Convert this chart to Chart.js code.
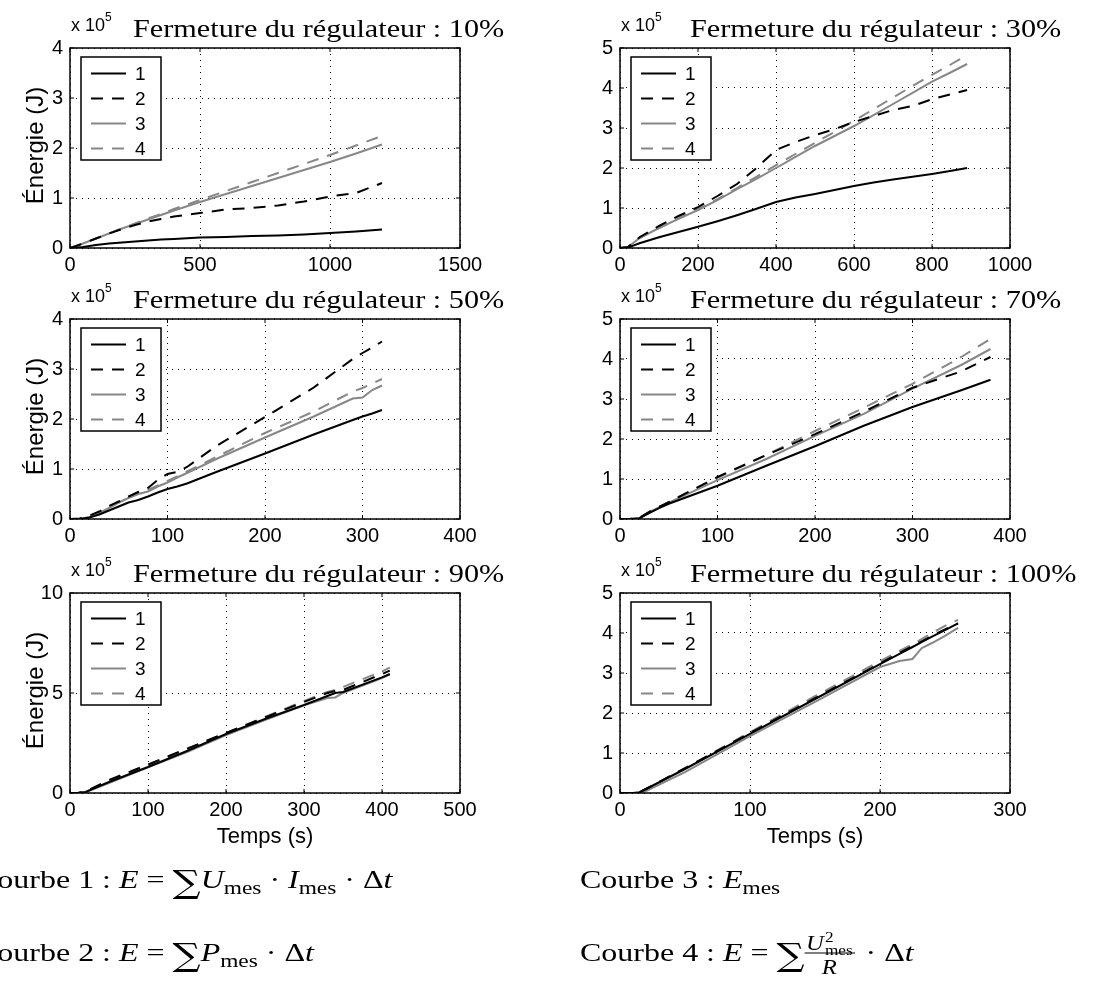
<!DOCTYPE html>
<html lang="fr">
<head>
<meta charset="utf-8">
<title>Énergie - fermeture du régulateur</title>
<script src="https://cdn.jsdelivr.net/npm/chart.js@4.4.1/dist/chart.umd.min.js"></script>
<style>
  html, body { margin: 0; padding: 0; background: #fff; }
  #page { position: relative; width: 1105px; height: 983px; overflow: hidden; }
  #page canvas { position: absolute; }
  #texte { left: 0; top: 0; z-index: 5; pointer-events: none; }
</style>
</head>
<body>
<div id="page"></div>
<script>
// --- Données : temps en s, énergie en x 10^5 J ---
const temps10 = [0, 50, 100, 150, 200, 250, 300, 350, 400, 500, 600, 700, 800, 900, 1000, 1100, 1200];
const e10_1 = [0, 0.02, 0.06, 0.09, 0.11, 0.13, 0.15, 0.17, 0.18, 0.21, 0.22, 0.24, 0.25, 0.27, 0.30, 0.33, 0.37];
const e10_2 = [0, 0.09, 0.19, 0.29, 0.38, 0.46, 0.53, 0.58, 0.63, 0.70, 0.77, 0.80, 0.85, 0.93, 1.03, 1.10, 1.30];
const e10_3 = [0, 0.09, 0.19, 0.29, 0.39, 0.48, 0.57, 0.66, 0.75, 0.92, 1.08, 1.24, 1.40, 1.56, 1.72, 1.89, 2.07];
const e10_4 = [0, 0.09, 0.19, 0.29, 0.39, 0.49, 0.59, 0.68, 0.78, 0.96, 1.14, 1.32, 1.50, 1.68, 1.86, 2.05, 2.24];

const temps30 = [0, 20, 50, 100, 150, 200, 250, 300, 350, 400, 450, 500, 550, 600, 650, 700, 750, 800, 850, 890];
const e30_1 = [0, 0.01, 0.12, 0.27, 0.40, 0.53, 0.67, 0.82, 0.98, 1.15, 1.26, 1.35, 1.45, 1.55, 1.64, 1.71, 1.78, 1.85, 1.93, 2.00];
const e30_2 = [0, 0.02, 0.27, 0.55, 0.80, 1.02, 1.30, 1.60, 2.00, 2.45, 2.65, 2.82, 2.97, 3.15, 3.30, 3.45, 3.55, 3.72, 3.85, 3.95];
const e30_3 = [0, 0.02, 0.25, 0.50, 0.73, 0.95, 1.20, 1.47, 1.73, 2.00, 2.28, 2.55, 2.80, 3.05, 3.32, 3.60, 3.88, 4.16, 4.40, 4.60];
const e30_4 = [0, 0.02, 0.25, 0.50, 0.74, 0.97, 1.22, 1.50, 1.78, 2.07, 2.35, 2.63, 2.90, 3.18, 3.47, 3.76, 4.05, 4.33, 4.60, 4.82];

const temps50 = [0, 10, 20, 30, 40, 50, 60, 70, 80, 90, 100, 110, 120, 150, 200, 250, 290, 300, 310, 320];
const e50_1 = [0, 0, 0.03, 0.09, 0.17, 0.25, 0.33, 0.38, 0.45, 0.53, 0.60, 0.65, 0.71, 0.94, 1.31, 1.69, 1.98, 2.05, 2.11, 2.18];
const e50_2 = [0, 0.01, 0.07, 0.15, 0.26, 0.35, 0.45, 0.54, 0.62, 0.78, 0.90, 0.94, 1.04, 1.46, 2.04, 2.63, 3.20, 3.32, 3.43, 3.55];
const e50_3 = [0, 0, 0.04, 0.12, 0.22, 0.33, 0.42, 0.50, 0.55, 0.65, 0.73, 0.83, 0.92, 1.20, 1.63, 2.05, 2.41, 2.43, 2.58, 2.67];
const e50_4 = [0, 0, 0.04, 0.12, 0.22, 0.33, 0.43, 0.51, 0.58, 0.67, 0.76, 0.85, 0.95, 1.24, 1.72, 2.15, 2.55, 2.62, 2.71, 2.80];

const temps70 = [0, 10, 20, 30, 40, 50, 100, 150, 200, 250, 300, 350, 380];
const e70_1 = [0, 0, 0.02, 0.15, 0.27, 0.38, 0.83, 1.33, 1.82, 2.33, 2.80, 3.22, 3.48];
const e70_2 = [0, 0, 0.03, 0.18, 0.30, 0.42, 1.05, 1.60, 2.12, 2.68, 3.28, 3.69, 4.05];
const e70_3 = [0, 0, 0.02, 0.17, 0.29, 0.41, 0.97, 1.50, 2.08, 2.63, 3.26, 3.85, 4.25];
const e70_4 = [0, 0, 0.03, 0.18, 0.30, 0.42, 1.03, 1.60, 2.20, 2.78, 3.38, 4.05, 4.50];

const temps90 = [0, 10, 20, 50, 100, 150, 200, 250, 300, 330, 340, 350, 400, 410];
const e90_1 = [0, 0, 0.05, 0.55, 1.30, 2.10, 2.95, 3.70, 4.40, 4.85, 5.00, 5.05, 5.78, 5.95];
const e90_2 = [0, 0, 0.08, 0.65, 1.42, 2.22, 3.00, 3.78, 4.55, 5.00, 5.10, 5.15, 5.95, 6.12];
const e90_3 = [0, 0, 0.04, 0.50, 1.28, 2.05, 2.90, 3.65, 4.38, 4.75, 4.78, 5.00, 5.75, 5.92];
const e90_4 = [0, 0, 0.06, 0.60, 1.38, 2.20, 3.00, 3.80, 4.60, 5.05, 5.15, 5.30, 6.08, 6.27];

const temps100 = [0, 10, 15, 20, 50, 100, 150, 200, 215, 225, 232, 240, 250, 260];
const e100_1 = [0, 0, 0.02, 0.10, 0.60, 1.48, 2.35, 3.22, 3.48, 3.65, 3.77, 3.91, 4.07, 4.24];
const e100_2 = [0, 0, 0.02, 0.10, 0.62, 1.50, 2.37, 3.24, 3.50, 3.67, 3.79, 3.93, 4.09, 4.24];
const e100_3 = [0, 0, 0, 0.05, 0.52, 1.42, 2.28, 3.15, 3.30, 3.35, 3.62, 3.75, 3.93, 4.13];
const e100_4 = [0, 0, 0.02, 0.10, 0.62, 1.52, 2.42, 3.30, 3.55, 3.72, 3.85, 4.00, 4.18, 4.33];

const nomsCourbes = ['1', '2', '3', '4'];

// --- Mise en page ---
const COLS = [70, 620];        // bord gauche des axes
const LIGNES = [43, 314, 588]; // bord haut des axes
const LARG = 390, HAUT = 205;
const MARGE_G = 50, MARGE_H = 14, MARGE_D = 40, MARGE_B = 32;

const SANS = "'Liberation Sans', Arial, sans-serif";
const SERIF = "'Liberation Serif', 'Times New Roman', serif";
const ETIRE = 1.23;       // la police LaTeX est plus large que Times
const ETIRE_TITRE = 1.21;
const GRIS = '#878787';
const TIRETS = [12, 9];
const STYLES = [
  { borderColor: '#000', borderDash: [] },
  { borderColor: '#000', borderDash: TIRETS },
  { borderColor: GRIS, borderDash: [] },
  { borderColor: GRIS, borderDash: TIRETS }
];

const panneaux = [
  { titre: 'Fermeture du régulateur : 10%', temps: temps10, series: [e10_1, e10_2, e10_3, e10_4], xMax: 1500, xPas: 500, yMax: 4, yPas: 1, col: 0, lig: 0 },
  { titre: 'Fermeture du régulateur : 30%', temps: temps30, series: [e30_1, e30_2, e30_3, e30_4], xMax: 1000, xPas: 200, yMax: 5, yPas: 1, col: 1, lig: 0 },
  { titre: 'Fermeture du régulateur : 50%', temps: temps50, series: [e50_1, e50_2, e50_3, e50_4], xMax: 400, xPas: 100, yMax: 4, yPas: 1, col: 0, lig: 1 },
  { titre: 'Fermeture du régulateur : 70%', temps: temps70, series: [e70_1, e70_2, e70_3, e70_4], xMax: 400, xPas: 100, yMax: 5, yPas: 1, col: 1, lig: 1 },
  { titre: 'Fermeture du régulateur : 90%', temps: temps90, series: [e90_1, e90_2, e90_3, e90_4], xMax: 500, xPas: 100, yMax: 10, yPas: 5, col: 0, lig: 2 },
  { titre: 'Fermeture du régulateur : 100%', temps: temps100, series: [e100_1, e100_2, e100_3, e100_4], xMax: 300, xPas: 100, yMax: 5, yPas: 1, col: 1, lig: 2 }
];

Chart.defaults.font.family = SANS;
Chart.defaults.font.size = 20;
Chart.defaults.color = '#000';
Chart.defaults.animation = false;

// Cadre, petites graduations intérieures et légende (style MATLAB)
const cadre = {
  id: 'cadre',
  afterDraw(chart) {
    const { ctx, chartArea: a, scales: { x, y } } = chart;
    ctx.save();
    ctx.strokeStyle = '#000';
    ctx.setLineDash([]);
    ctx.lineWidth = 1;
    ctx.beginPath();
    x.ticks.forEach(t => {
      const px = x.getPixelForValue(t.value);
      ctx.moveTo(px, a.bottom); ctx.lineTo(px, a.bottom - 4);
      ctx.moveTo(px, a.top); ctx.lineTo(px, a.top + 4);
    });
    y.ticks.forEach(t => {
      const py = y.getPixelForValue(t.value);
      ctx.moveTo(a.left, py); ctx.lineTo(a.left + 4, py);
      ctx.moveTo(a.right, py); ctx.lineTo(a.right - 4, py);
    });
    ctx.stroke();
    ctx.lineWidth = 1.5;
    ctx.strokeRect(a.left, a.top, a.right - a.left, a.bottom - a.top);

    // légende
    const bx = a.left + 11, by = a.top + 9;
    ctx.fillStyle = '#fff';
    ctx.fillRect(bx, by, 80, 103);
    ctx.lineWidth = 1.5;
    ctx.strokeRect(bx, by, 80, 103);
    ctx.font = '19px ' + SANS;
    ctx.textBaseline = 'middle';
    chart.data.datasets.forEach((d, i) => {
      const ly = a.top + 25.5 + i * 25;
      ctx.strokeStyle = d.borderColor;
      ctx.lineWidth = 2;
      ctx.setLineDash(d.borderDash);
      ctx.beginPath();
      ctx.moveTo(a.left + 21, ly);
      ctx.lineTo(a.left + 56, ly);
      ctx.stroke();
      ctx.fillStyle = '#000';
      ctx.fillText(d.label, a.left + 65, ly + 1);
    });
    ctx.restore();
  }
};

const page = document.getElementById('page');

panneaux.forEach(p => {
  const L = COLS[p.col], T = LIGNES[p.lig];
  const cv = document.createElement('canvas');
  cv.width = LARG + MARGE_G + MARGE_D;
  cv.height = HAUT + MARGE_H + MARGE_B;
  cv.style.left = (L - MARGE_G) + 'px';
  cv.style.top = (T - MARGE_H) + 'px';
  page.appendChild(cv);

  new Chart(cv, {
    type: 'line',
    data: {
      datasets: p.series.map((s, i) => ({
        label: nomsCourbes[i],
        data: p.temps.map((t, k) => ({ x: t, y: s[k] })),
        borderColor: STYLES[i].borderColor,
        borderDash: STYLES[i].borderDash,
        borderWidth: 2,
        pointRadius: 0,
        fill: false,
        tension: 0
      }))
    },
    options: {
      responsive: false,
      devicePixelRatio: 1,
      layout: { padding: { left: 0, top: MARGE_H, right: MARGE_D, bottom: 0 } },
      plugins: { legend: { display: false }, tooltip: { enabled: false } },
      scales: {
        x: {
          type: 'linear', min: 0, max: p.xMax,
          afterFit: s => { s.height = MARGE_B; },
          ticks: { stepSize: p.xPas, padding: 5, maxRotation: 0, autoSkip: false, callback: v => String(v) },
          grid: { color: '#000', lineWidth: 1, drawTicks: false },
          border: { display: false, dash: [1, 5] }
        },
        y: {
          min: 0, max: p.yMax,
          afterFit: s => { s.width = MARGE_G; },
          ticks: { stepSize: p.yPas, padding: 7, callback: v => String(v) },
          grid: { color: '#000', lineWidth: 1, drawTicks: false },
          border: { display: false, dash: [1, 5] }
        }
      }
    },
    plugins: [cadre]
  });
});

// --- Textes : titres, multiplicateur, noms d'axes, formules ---
const tx = document.createElement('canvas');
tx.id = 'texte';
tx.width = 1105; tx.height = 983;
page.appendChild(tx);
const c = tx.getContext('2d');
c.fillStyle = '#000';
c.textBaseline = 'alphabetic';

function morceaux(x, y, liste, etire) {
  c.save();
  c.translate(x, y);
  c.scale(etire, 1);
  let cx = 0;
  liste.forEach(m => {
    if (m.frac) {
      // fraction U²mes / R
      c.font = 'italic 20px ' + SERIF;
      const wU = c.measureText('U').width;
      c.fillText('U', cx + 1, -11);
      c.font = '14px ' + SERIF;
      c.fillText('2', cx + wU + 2, -19);
      c.fillText('mes', cx + wU + 2, -6);
      const wNum = wU + 3 + c.measureText('mes').width;
      c.fillRect(cx, -8.5, wNum + 1, 1);
      c.font = 'italic 20px ' + SERIF;
      c.fillText('R', cx + (wNum - c.measureText('R').width) / 2, 13);
      cx += wNum + 3;
      return;
    }
    c.font = m[1];
    c.fillText(m[0], cx, m[2] || 0);
    cx += c.measureText(m[0]).width;
  });
  c.restore();
}

const R26 = '26px ' + SERIF, I26 = 'italic 26px ' + SERIF, S18 = '19px ' + SERIF;
const SOMME = "32px 'DejaVu Serif', serif";

panneaux.forEach(p => {
  const L = COLS[p.col], T = LIGNES[p.lig];
  // titre
  morceaux(L + (p.col ? 70 : 63), T - 6, [[p.titre, '25px ' + SERIF]], ETIRE_TITRE);
  // x 10^5
  morceaux(L + 1, T - 12, [['x 10', '18px ' + SANS], ['5', '12px ' + SANS, -10]], 1);
  // axe des ordonnées
  if (p.col === 0) {
    c.save();
    c.translate(43, T + HAUT / 2);
    c.rotate(-Math.PI / 2);
    c.font = '24px ' + SANS;
    c.textAlign = 'center';
    c.fillText('Énergie (J)', 0, 0);
    c.restore();
  }
  // axe des abscisses
  if (p.lig === 2) {
    c.save();
    c.font = '22px ' + SANS;
    c.textAlign = 'center';
    c.fillText('Temps (s)', L + LARG / 2, 843);
    c.restore();
  }
});

// formules des courbes
morceaux(-24, 888, [['Courbe 1 : ', R26], ['E', I26], [' = ', R26], ['∑', SOMME, 5], ['U', I26], ['mes', S18, 6], [' · ', R26], ['I', I26], ['mes', S18, 6], [' · Δ', R26], ['t', I26]], ETIRE);
morceaux(580, 888, [['Courbe 3 : ', R26], ['E', I26], ['mes', S18, 6]], ETIRE);
morceaux(-24, 961, [['Courbe 2 : ', R26], ['E', I26], [' = ', R26], ['∑', SOMME, 5], ['P', I26], ['mes', S18, 6], [' · Δ', R26], ['t', I26]], ETIRE);
morceaux(580, 961, [['Courbe 4 : ', R26], ['E', I26], [' = ', R26], ['∑', SOMME, 5], { frac: true }, [' · Δ', R26], ['t', I26]], ETIRE);
</script>
</body>
</html>
